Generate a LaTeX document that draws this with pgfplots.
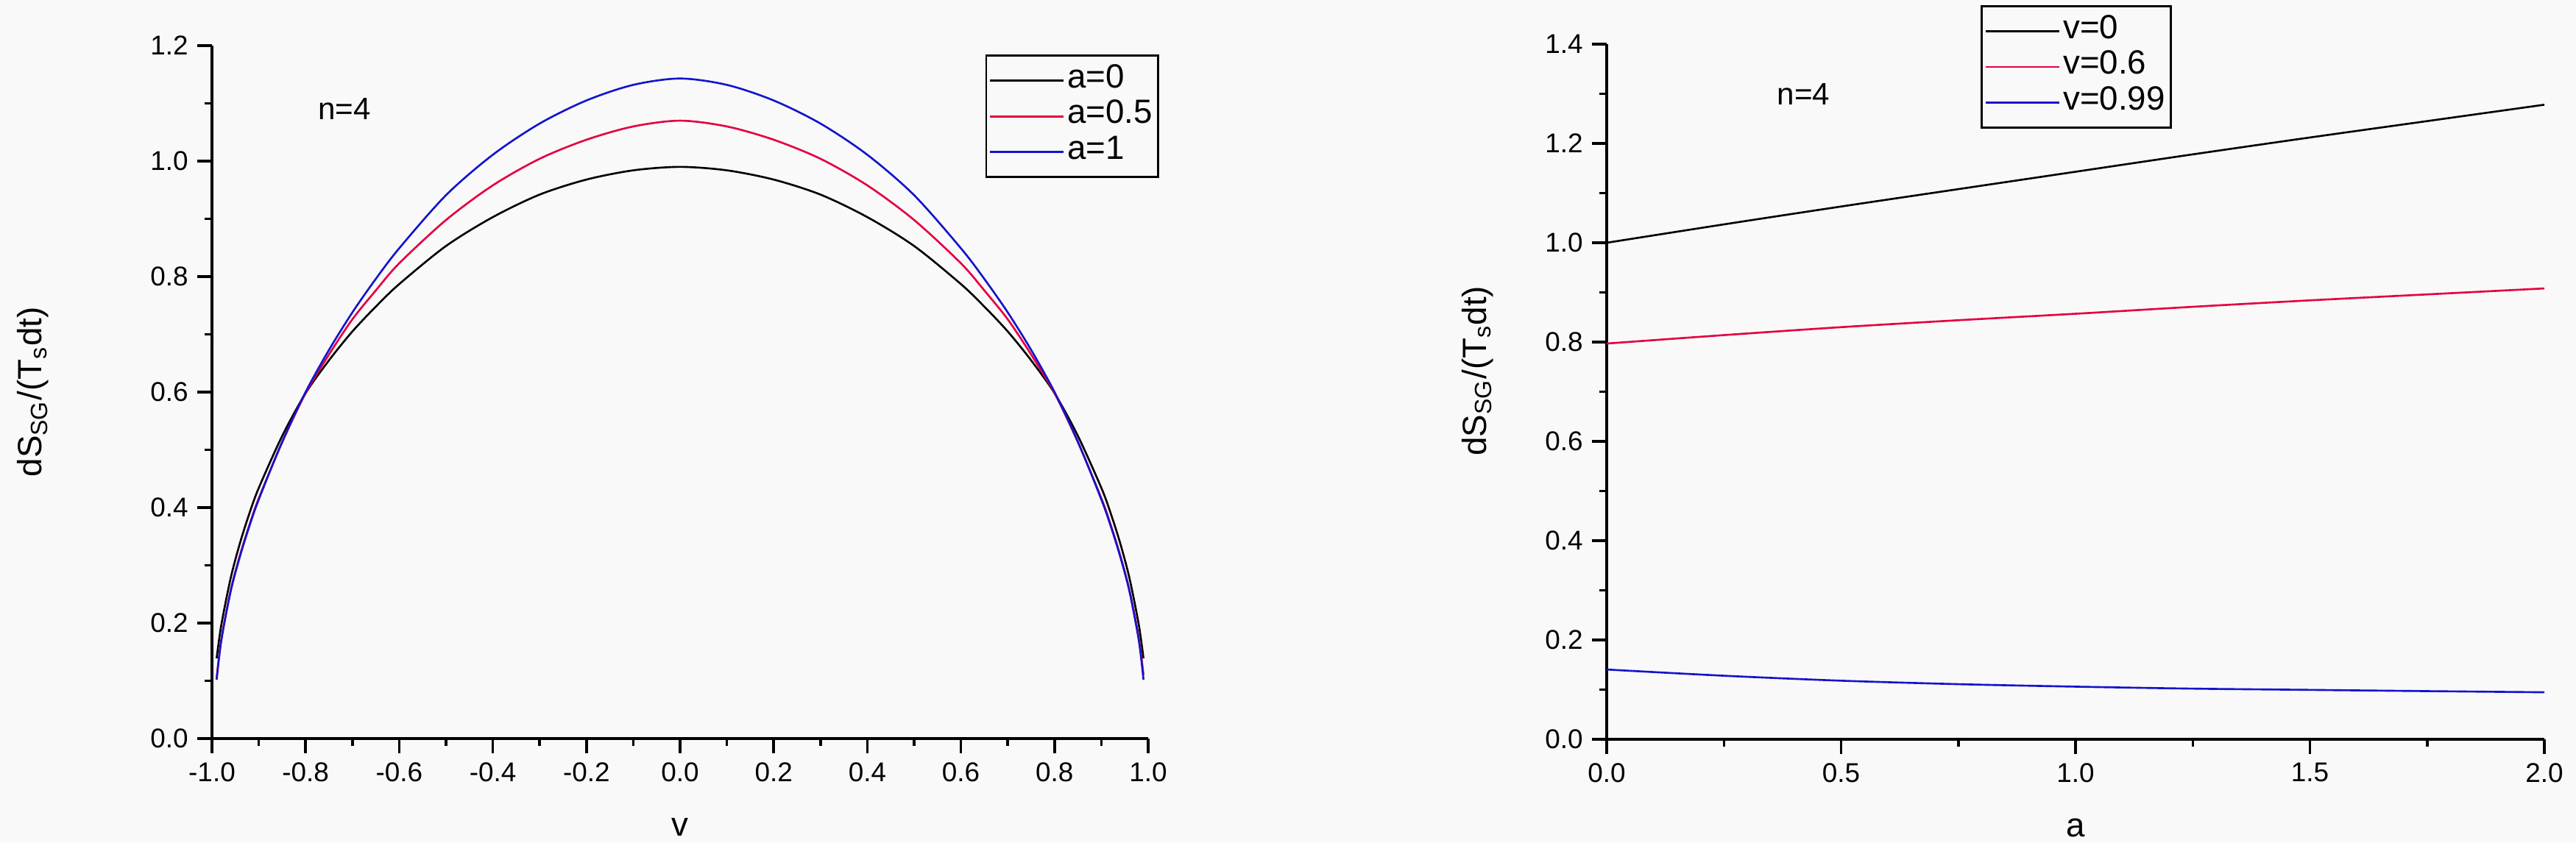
\documentclass[border=0pt]{standalone}
\usepackage{pgfplots}
\pgfplotsset{compat=1.18}
\usepackage{fontspec}
\setmainfont{Liberation Sans}
\definecolor{bg}{RGB}{249,249,249}
\definecolor{cred}{RGB}{228,0,64}
\definecolor{cblue}{RGB}{20,20,205}

\pgfplotstableread{
v a0 a05 a1
-0.99 0.139 0.105 0.102
-0.98 0.197 0.172 0.170
-0.96 0.278 0.257 0.255
-0.94 0.339 0.318 0.316
-0.92 0.390 0.370 0.368
-0.90 0.434 0.416 0.414
-0.85 0.524 0.513 0.514
-0.80 0.598 0.598 0.600
-0.75 0.655 0.665 0.673
-0.70 0.705 0.726 0.738
-0.65 0.748 0.776 0.796
-0.60 0.787 0.823 0.849
-0.50 0.853 0.898 0.941
-0.40 0.903 0.958 1.011
-0.30 0.942 1.004 1.065
-0.20 0.968 1.037 1.105
-0.10 0.984 1.060 1.132
0.00 0.990 1.070 1.143
0.10 0.984 1.060 1.132
0.20 0.968 1.037 1.105
0.30 0.942 1.004 1.065
0.40 0.903 0.958 1.011
0.50 0.853 0.898 0.941
0.60 0.787 0.823 0.849
0.65 0.748 0.776 0.796
0.70 0.705 0.726 0.738
0.75 0.655 0.665 0.673
0.80 0.598 0.598 0.600
0.85 0.524 0.513 0.514
0.90 0.434 0.416 0.414
0.92 0.390 0.370 0.368
0.94 0.339 0.318 0.316
0.96 0.278 0.257 0.255
0.98 0.197 0.174 0.170
0.99 0.139 0.110 0.102
}\leftdata

\pgfplotstableread{
a v0 v06 v099
0.00 1.000 0.797 0.1405
0.25 1.037 0.814 0.128
0.50 1.073 0.830 0.118
0.75 1.108 0.844 0.111
1.00 1.143 0.857 0.106
1.25 1.178 0.871 0.102
1.50 1.212 0.884 0.0995
1.75 1.245 0.896 0.097
2.00 1.278 0.908 0.0947
}\rightdata

\pgfplotsset{
  common/.style={
    scale only axis,
    anchor=south west,
    axis x line*=bottom,
    axis y line*=left,
    axis line style={line width=1.1pt, -},
    tick align=outside,
    major tick length=0.2cm,
    minor tick length=0.1cm,
    every tick/.style={black, line width=1pt},
    minor tick num=1,
    /pgf/number format/assume math mode=true,
    ticklabel style={font=\fontsize{10.5}{12}\selectfont},
    xticklabel style={/pgf/number format/.cd, fixed, fixed zerofill, precision=1},
    yticklabel style={/pgf/number format/.cd, fixed, fixed zerofill, precision=1},
    label style={font=\fontsize{13}{15}\selectfont},
    legend cell align=left,
    legend image code/.code={\draw[##1, line width=0.8pt] (0cm,0cm) -- (1.0cm,0cm);},
    legend style={draw=black, line width=0.8pt, fill=bg,
      font=\fontsize{13}{15}\selectfont,
      nodes={inner sep=1.2pt, text height=0.72em, text depth=0.18em},
      row sep=2.4pt, inner xsep=1pt, inner ysep=4pt},
    every axis plot/.append style={line width=0.75pt},
  }
}

\begin{document}
\begin{tikzpicture}
\fill[bg] (0,0) rectangle (35cm,11.45cm);
\path[use as bounding box] (0,0) rectangle (35cm,11.45cm);

\begin{axis}[common,
  at={(2.88cm,1.41cm)}, width=12.72cm, height=9.42cm,
  xmin=-1, xmax=1, ymin=0, ymax=1.2,
  xtick={-1,-0.8,-0.6,-0.4,-0.2,0,0.2,0.4,0.6,0.8,1},
  ytick={0,0.2,0.4,0.6,0.8,1.0,1.2},
  xlabel={v},
  ylabel={dS\textsubscript{SG}/(T\textsubscript{s}dt)},
  xlabel style={at={(axis description cs:0.5,-0.128)}, anchor=center},
  ylabel style={at={(axis description cs:-0.191,0.5)}, anchor=center},
  legend style={at={(axis description cs:1.012,0.987)}, anchor=north east},
]
\addplot[black, smooth, tension=0.5] table[x=v, y=a0] {\leftdata};
\addlegendentry{a=0}
\addplot[cred, smooth, tension=0.5] table[x=v, y=a05] {\leftdata};
\addlegendentry{a=0.5}
\addplot[cblue, smooth, tension=0.5] table[x=v, y=a1] {\leftdata};
\addlegendentry{a=1}
\node[font=\fontsize{12}{14}\selectfont] at (axis cs:-0.717,1.09) {n=4};
\end{axis}

\begin{axis}[common,
  at={(21.83cm,1.40cm)}, width=12.74cm, height=9.45cm,
  xmin=0, xmax=2, ymin=0, ymax=1.4,
  xtick={0,0.5,1,1.5,2},
  ytick={0,0.2,0.4,0.6,0.8,1.0,1.2,1.4},
  xlabel={a},
  ylabel={dS\textsubscript{SG}/(T\textsubscript{s}dt)},
  xlabel style={at={(axis description cs:0.5,-0.127)}, anchor=center},
  ylabel style={at={(axis description cs:-0.138,0.53)}, anchor=center},
  legend style={at={(axis description cs:0.399,1.056)}, anchor=north west},
]
\addplot[black, smooth, tension=0.5] table[x=a, y=v0] {\rightdata};
\addlegendentry{v=0}
\addplot[cred, smooth, tension=0.5] table[x=a, y=v06] {\rightdata};
\addlegendentry{v=0.6}
\addplot[cblue, smooth, tension=0.5] table[x=a, y=v099] {\rightdata};
\addlegendentry{v=0.99}
\node[font=\fontsize{12}{14}\selectfont] at (axis cs:0.42,1.30) {n=4};
\end{axis}
\end{tikzpicture}
\end{document}
